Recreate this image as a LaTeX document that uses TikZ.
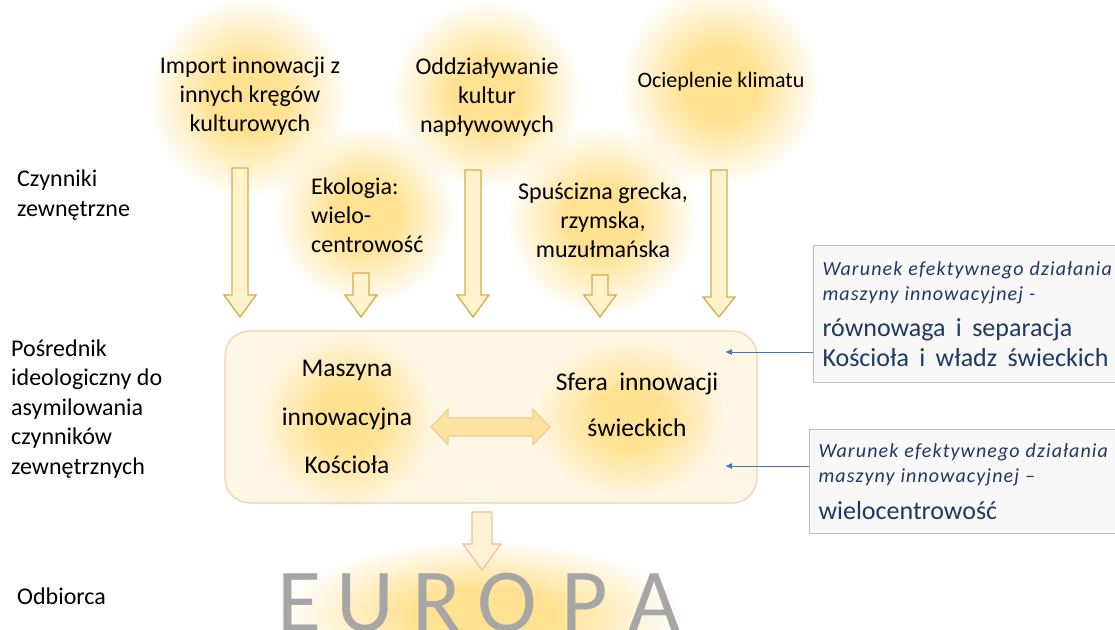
\documentclass[tikz,border=0pt]{standalone}
\usepackage{fontspec}
\setmainfont{Carlito}
\usepackage{xcolor}
\usepackage{tikz}
\usetikzlibrary{arrows.meta,positioning,fadings}

\definecolor{glowc}{RGB}{255,226,145}
\definecolor{goldline}{RGB}{212,174,72}
\definecolor{goldfill}{RGB}{255,242,204}
\definecolor{boxfill}{RGB}{255,247,229}
\definecolor{boxline}{RGB}{248,203,173}
\definecolor{dblfill}{RGB}{255,228,160}
\definecolor{dblline}{RGB}{250,200,150}
\definecolor{botfill}{RGB}{255,243,214}
\definecolor{botline}{RGB}{248,190,150}
\definecolor{navy}{RGB}{32,56,100}
\definecolor{condfill}{RGB}{248,248,248}
\definecolor{condline}{RGB}{191,191,191}
\definecolor{bluec}{RGB}{68,114,196}
\definecolor{europagray}{RGB}{166,166,166}

\pgfdeclareradialshading{glowshading}{\pgfpointorigin}{color(0bp)=(pgftransparent!0); color(9bp)=(pgftransparent!0); color(25bp)=(pgftransparent!100); color(50bp)=(pgftransparent!100)}
\pgfdeclarefading{glowfade}{\pgfuseshading{glowshading}}

\newcommand{\fsz}[2]{\fontsize{#1}{#2}\selectfont}
\newcommand{\condital}{\itshape\fsz{20}{25}\addfontfeature{LetterSpace=5.5}\spaceskip=0.3em plus 0.1em\hyphenpenalty=10000}
\newcommand{\condmain}{\fsz{26}{30}\spaceskip=0.4em plus 0.1em}
% style, x, top, head start, tip, half shaft, half head
\newcommand{\blockdown}[7]{%
  \draw[#1] ({#2-#6},#3) -- ({#2+#6},#3) -- ({#2+#6},#4) -- ({#2+#7},#4)
    -- (#2,#5) -- ({#2-#7},#4) -- ({#2-#6},#4) -- cycle;}

\begin{document}
\begin{tikzpicture}[x=1pt, y=-1pt,
  glow/.style={fill=glowc, path fading=glowfade},
  factor/.style={align=center, inner sep=0pt, font=\fsz{24}{29}},
  sidelbl/.style={anchor=west, align=left, inner sep=0pt, font=\fsz{24}{29.5}},
  mainbox/.style={draw=boxline, fill=boxfill, rounded corners=25pt, line width=1.2pt,
                  minimum width=532pt, minimum height=172pt},
  topdown/.style={draw=goldline, fill=goldfill, line width=1.3pt},
  botdown/.style={draw=botline, fill=botfill, line width=1.2pt},
  dblarr/.style={draw=dblline, fill=dblfill, line width=1.2pt},
  europa/.style={anchor=base, inner sep=0pt, text=europagray, font=\fsz{90}{90}},
  cond/.style={draw=condline, fill=condfill, line width=1pt, anchor=north west,
               text width=310pt, inner xsep=9pt, align=left, text=navy},
  condarr/.style={draw=bluec, line width=0.9pt, -{Latex[length=7pt,width=6pt]}}
]
  \useasboundingbox (0,0) rectangle (1115,629);
  \clip (0,0) rectangle (1115,629);
  \fill[white] (0,0) rectangle (1115,629);

  % external factors
  \fill[glow] (248,97) circle (100);
  \fill[glow] (487,95) circle (95);
  \fill[glow] (720,85) circle (100);
  \fill[glow] (365,215) circle (90);
  \fill[glow] (602,220) circle (95);

  \blockdown{topdown}{240}{168}{295}{317}{8}{16}
  \blockdown{topdown}{361}{273}{295}{317}{8}{16}
  \blockdown{topdown}{473}{170}{295}{317}{8}{16}
  \blockdown{topdown}{600}{275}{295}{317}{8}{16}
  \blockdown{topdown}{719}{170}{297}{317}{8}{16}

  \node[factor] (import) at (250,96) {Import innowacji z\\innych kręgów\\kulturowych};
  \node[factor] (oddzial) at (487,97) {Oddziaływanie\\kultur\\napływowych};
  \node[factor, font=\fsz{22}{27}] (klimat) at (721,82) {Ocieplenie klimatu};
  \node[factor, align=left, anchor=west] (ekologia) at (311,215) {Ekologia:\\wielo-\\centrowość};
  \node[factor] (spuscizna) at (603,220) {Spuścizna grecka,\\rzymska,\\muzułmańska};

  % ideological intermediary
  \node[mainbox] (posrednik) at (491,417) {};
  \fill[glow] (348,420) circle (88);
  \fill[glow] (630,418) circle [x radius=95, y radius=80];
  \node[factor, font=\fsz{25.5}{48.5}] (maszyna) at (347,417) {Maszyna\\innowacyjna\\Kościoła};
  \node[factor, font=\fsz{25.5}{46}] (sfera) at (637,405) {Sfera\hspace{0.45em}innowacji\\świeckich};
  \draw[dblarr] (431,427) -- (448,409.5) -- (448,418) -- (533,418) -- (533,409.5) -- (550,427)
    -- (533,444.5) -- (533,436) -- (448,436) -- (448,444.5) -- cycle;

  % receiver
  \fill[glow] (483,615) circle [x radius=200, y radius=75];
  \blockdown{botdown}{482}{512}{544}{570}{10}{19}
  \foreach \l/\x in {E/299,U/365,R/437,O/507,P/585,A/655}
    \node[europa] (eu\l) at (\x,631) {\l};

  % row labels
  \node[sidelbl] (czynniki) at (17,195) {Czynniki\\zewnętrzne};
  \node[sidelbl] (posr) at (11,409) {Pośrednik\\ideologiczny do\\asymilowania\\czynników\\zewnętrznych};
  \node[sidelbl] (odbiorca) at (17,596) {Odbiorca};

  % conditions
  \node[cond, minimum height=137pt] (warunek1) at (813,245)
    {{\condital Warunek efektywnego działania\\maszyny innowacyjnej -\par}\vspace{6pt}%
     {\condmain równowaga i separacja\\Kościoła i władz świeckich\par}};
  \node[cond, minimum height=104pt] (warunek2) at (809,429)
    {{\condital Warunek efektywnego działania\\maszyny innowacyjnej –\par}\vspace{7pt}%
     {\condmain wielocentrowość\par}};
  \coordinate (tip1) at (725,352);
  \coordinate (tip2) at (725,466);
  \draw[condarr] (warunek1.west |- tip1) -- (tip1);
  \draw[condarr] (warunek2.west |- tip2) -- (tip2);
\end{tikzpicture}
\end{document}
